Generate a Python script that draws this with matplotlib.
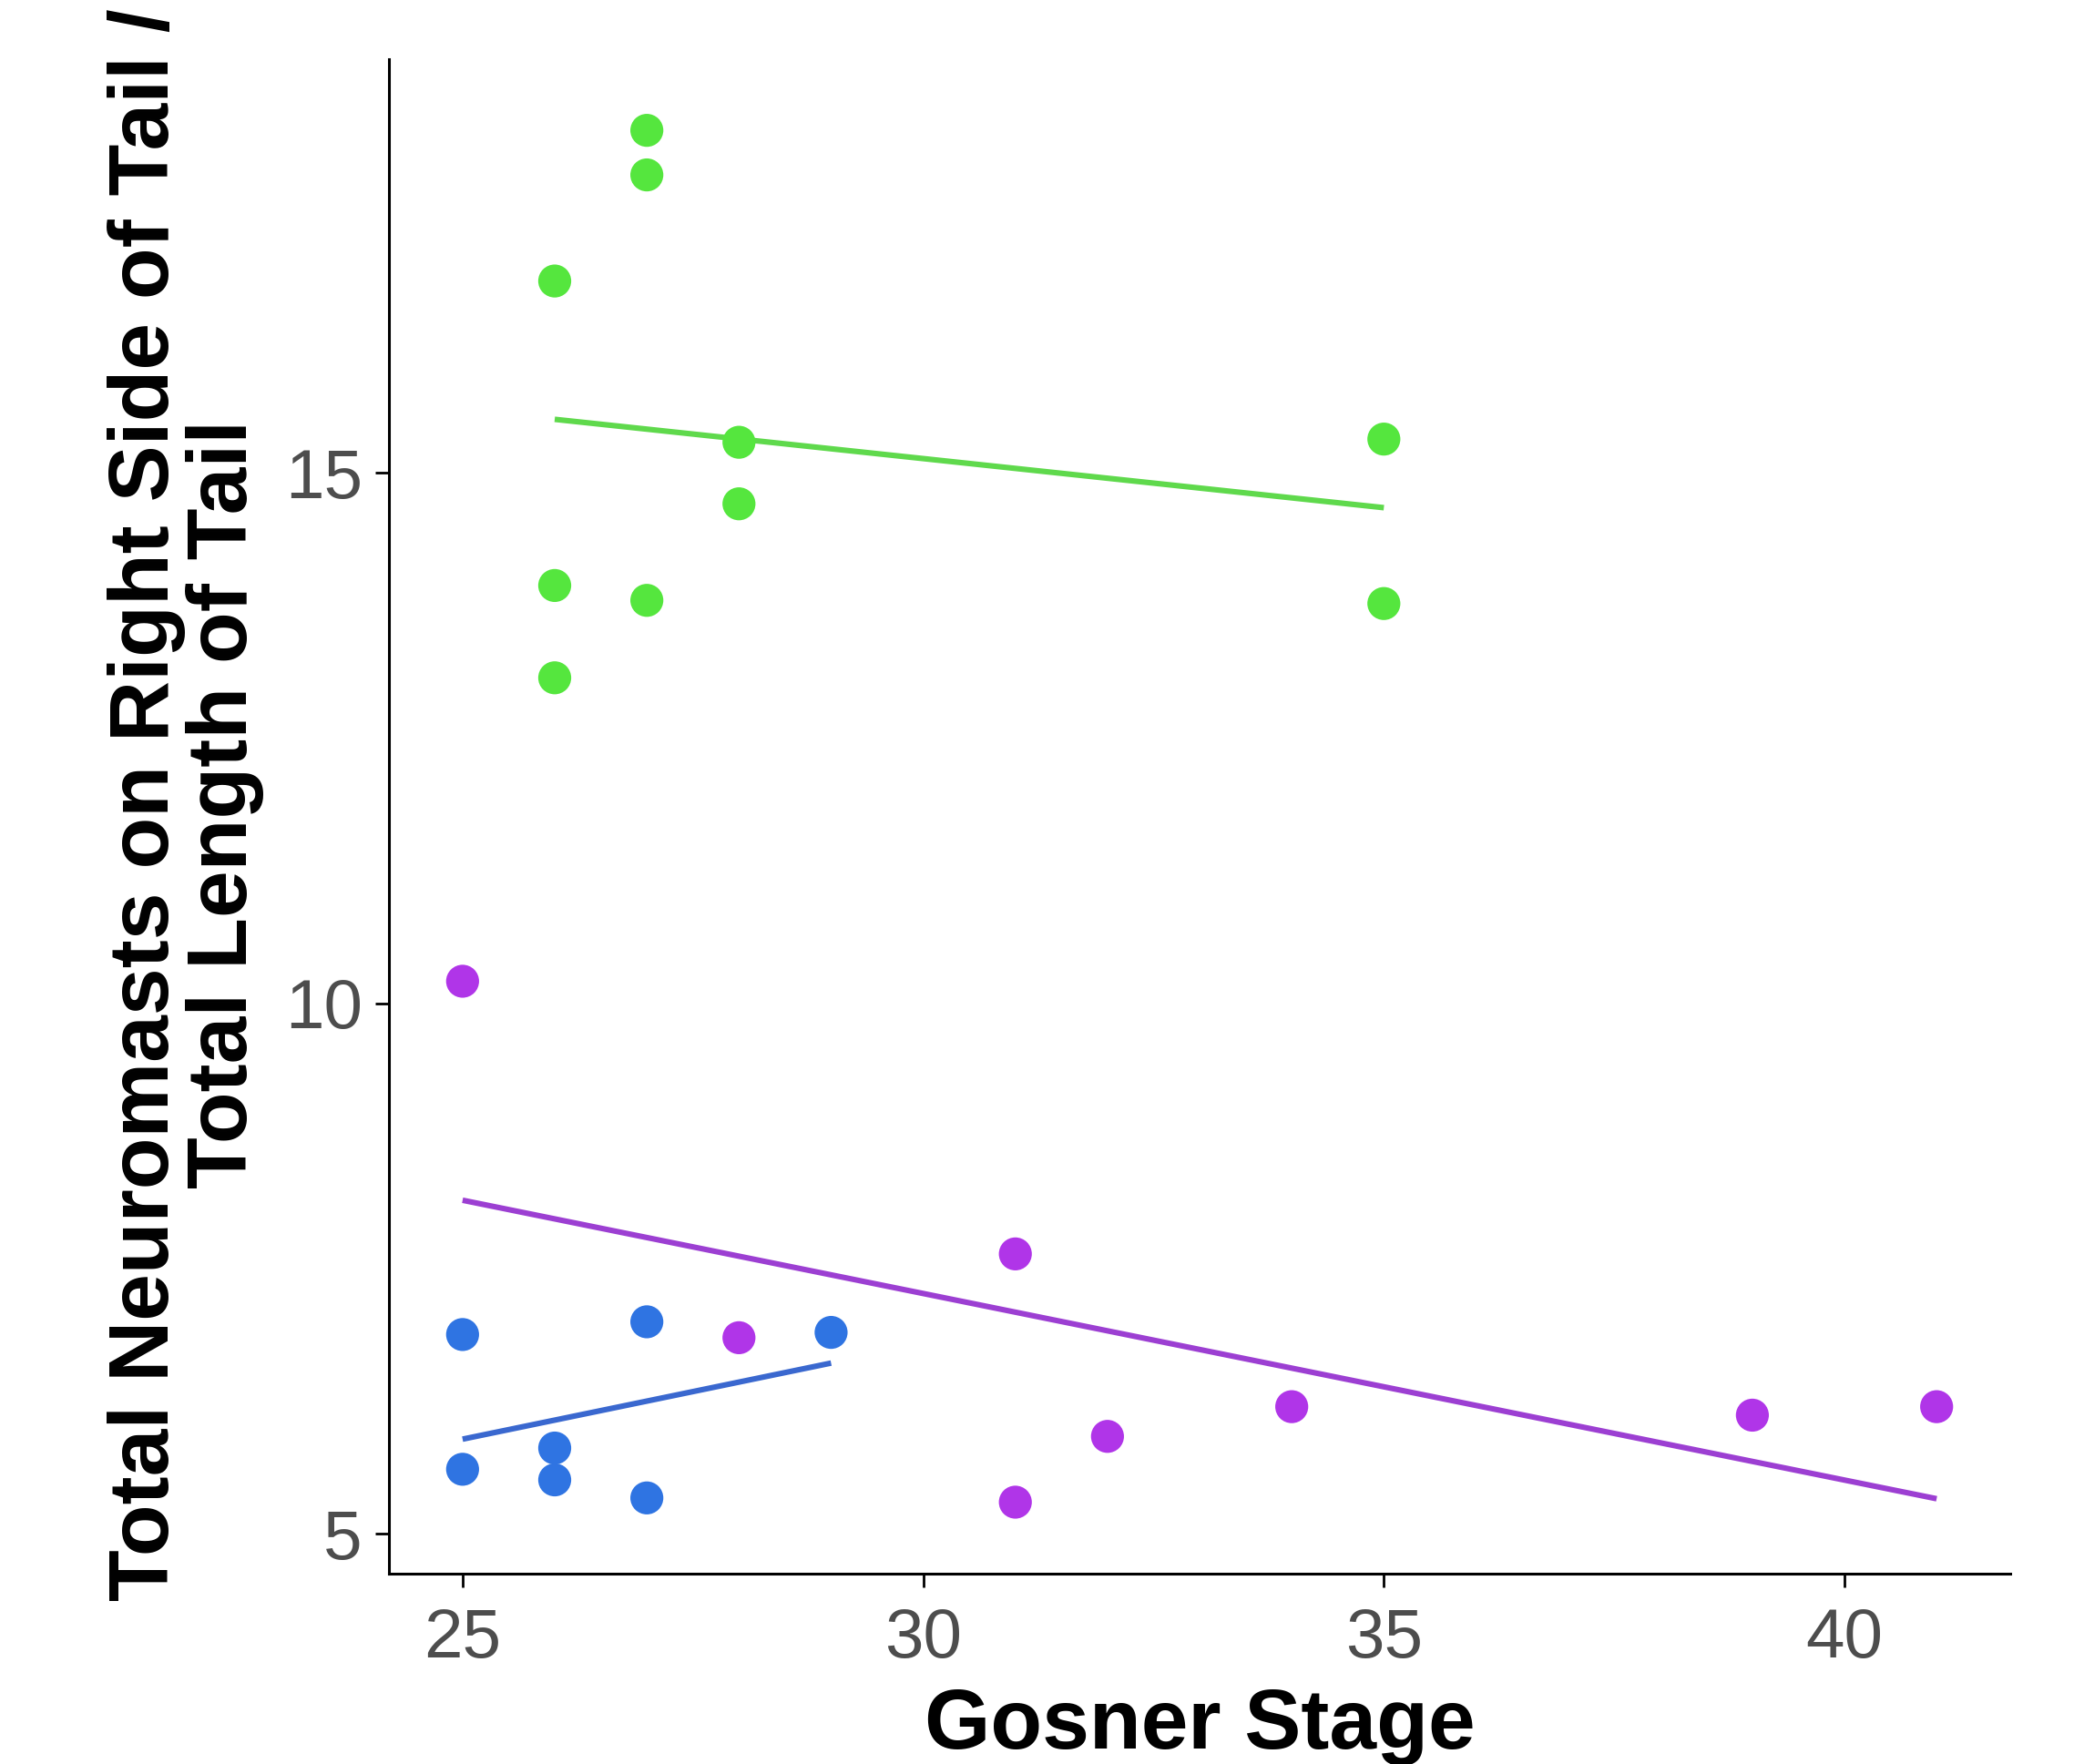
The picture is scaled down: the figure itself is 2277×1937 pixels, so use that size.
import matplotlib

matplotlib.use("Agg")

import matplotlib.pyplot as plt
import numpy as np


# values (Gosner stage, neuromasts / tail length)
GREEN_X = [26, 26, 26, 27, 27, 27, 28, 28, 35, 35]
GREEN_Y = [16.81, 13.94, 13.07, 18.23, 17.81, 13.80, 15.29, 14.71, 15.32, 13.77]

BLUE_X = [25, 25, 26, 26, 27, 27, 29]
BLUE_Y = [6.88, 5.61, 5.81, 5.51, 7.00, 5.34, 6.90]

PURPLE_X = [25, 28, 31, 31, 32, 34, 39, 41]
PURPLE_Y = [10.21, 6.85, 7.64, 5.30, 5.92, 6.20, 6.12, 6.20]

X_TICKS = [25, 30, 35, 40]
Y_TICKS = [5, 10, 15]

GROUPS = [
    (GREEN_X, GREEN_Y, "#55e63e", "#5fd94c"),
    (BLUE_X, BLUE_Y, "#2f74e2", "#3a68cf"),
    (PURPLE_X, PURPLE_Y, "#b035e8", "#9c3fd2"),
]


def fit_line(x, y):
    x = np.asarray(x, dtype=float)
    y = np.asarray(y, dtype=float)
    slope, intercept = np.polyfit(x, y, 1)
    xs = np.linspace(x.min(), x.max(), 50)
    return xs, slope * xs + intercept


def main():
    plt.rcParams["font.family"] = ["Liberation Sans", "DejaVu Sans"]
    fig = plt.figure(figsize=(22.77, 19.37), dpi=100)
    ax = fig.add_axes([0.1875, 0.1079, 0.9693 - 0.1875, 0.9664 - 0.1079])

    for x, y, point_color, line_color in GROUPS:
        xs, ys = fit_line(x, y)
        ax.plot(xs, ys, color=line_color, linewidth=4.4, zorder=2,
                solid_capstyle="butt")
        ax.scatter(x, y, s=680, color=point_color, edgecolors="none", zorder=3)

    ax.set_xlim(24.2, 41.8)
    ax.set_ylim(4.626, 18.9)
    ax.set_xticks(X_TICKS)
    ax.set_yticks(Y_TICKS)

    for side in ("top", "right"):
        ax.spines[side].set_visible(False)
    for side in ("left", "bottom"):
        ax.spines[side].set_linewidth(2.2)
        ax.spines[side].set_color("black")

    ax.tick_params(axis="both", length=11, width=2.0, color="black",
                   labelsize=55, labelcolor="#4d4d4d")
    ax.tick_params(axis="x", pad=16)
    ax.tick_params(axis="y", pad=10)

    ax.set_xlabel("Gosner Stage", fontsize=67, fontweight="bold")
    ax.xaxis.set_label_coords(0.5, -0.075)
    ax.set_ylabel("Total Neuromasts on Right Side of Tail /\nTotal Length of Tail",
                  fontsize=67, fontweight="bold", linespacing=1.0)
    ax.yaxis.set_label_coords(-0.077, 0.508)

    fig.savefig("out.png", dpi=100, facecolor="white")
    plt.close(fig)


if __name__ == "__main__":
    main()
